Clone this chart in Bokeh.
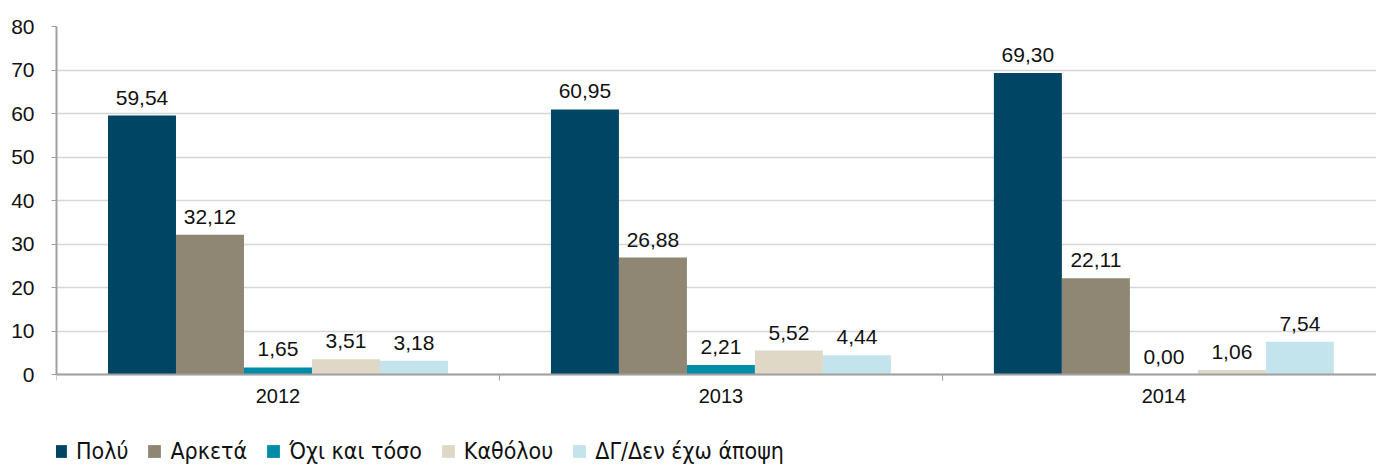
from bokeh.plotting import figure
from bokeh.models import ColumnDataSource, Range1d, FixedTicker, Legend, LegendItem
from bokeh.embed import file_html
from bokeh.resources import INLINE
from bokeh.core.properties import value

years = ["2012", "2013", "2014"]
series = ["Πολύ", "Αρκετά", "Όχι και τόσο", "Καθόλου", "ΔΓ/Δεν έχω άποψη"]
values = {
    "Πολύ": [59.54, 60.95, 69.30],
    "Αρκετά": [32.12, 26.88, 22.11],
    "Όχι και τόσο": [1.65, 2.21, 0.00],
    "Καθόλου": [3.51, 5.52, 1.06],
    "ΔΓ/Δεν έχω άποψη": [3.18, 4.44, 7.54],
}
colors = ["#004664", "#8f8673", "#008ba8", "#e0d8c6", "#c3e4ec"]
y_ticks = [0, 10, 20, 30, 40, 50, 60, 70, 80]

FONT = "Liberation Sans"
bw = 0.1535

# frame spans full height below the top border; value 0 sits at 374px, 80 at 26px
p = figure(width=1376, height=465, output_backend="svg", toolbar_location=None,
           x_range=Range1d(0, 2.98), y_range=Range1d(-20.9, 80),
           min_border_left=56, min_border_right=0, min_border_top=26, min_border_bottom=0)
p.outline_line_color = None

items = []
for j, (s, c) in enumerate(zip(series, colors)):
    xs = [i + 0.5 + (j - 2) * bw for i in range(len(years))]
    src = ColumnDataSource(dict(x=xs, top=values[s], lab=[f"{v:.2f}".replace(".", ",") for v in values[s]]))
    r = p.vbar(x="x", top="top", width=bw, source=src, fill_color=c, line_color=None)
    p.text(x="x", y="top", text="lab", source=src, text_align="center", text_baseline="alphabetic",
           y_offset=-18, text_font=value(FONT), text_font_size="21px", text_color="#111111")
    items.append(LegendItem(label=s, renderers=[r]))

# axes
p.yaxis.ticker = FixedTicker(ticks=y_ticks)
p.yaxis.bounds = (0, 80)
p.yaxis.major_label_text_font = FONT
p.yaxis.major_label_text_font_size = "21px"
p.yaxis.major_label_text_color = "#111111"
p.yaxis.axis_line_color = "#a0a0a0"
p.yaxis.axis_line_width = 2
p.yaxis.major_tick_line_color = "#a0a0a0"
p.yaxis.major_tick_out = 5
p.yaxis.major_tick_in = 0
p.yaxis.minor_tick_line_color = None
p.yaxis.major_label_standoff = 17

p.xaxis.fixed_location = 0
p.xaxis.ticker = FixedTicker(ticks=[i + 0.5 for i in range(len(years))], minor_ticks=list(range(len(years) + 1)))
p.xaxis.major_label_overrides = {i + 0.5: y for i, y in enumerate(years)}
p.xaxis.major_label_text_font = FONT
p.xaxis.major_label_text_font_size = "20px"
p.xaxis.major_label_text_color = "#111111"
p.xaxis.major_tick_line_color = None
p.xaxis.minor_tick_line_color = "#a0a0a0"
p.xaxis.minor_tick_out = 6
p.xaxis.minor_tick_in = 0
p.xaxis.axis_line_color = "#a0a0a0"
p.xaxis.axis_line_width = 2
p.xaxis.major_label_standoff = 8

p.xgrid.grid_line_color = None
p.ygrid.grid_line_color = "#d6d6d6"
p.ygrid.grid_line_width = 1.5
p.ygrid.bounds = (0, 80)

legend = Legend(items=items, orientation="horizontal", location=(-4, 1),
                label_text_font="DejaVu Sans Condensed", label_text_font_size="23px",
                label_text_color="#111111", glyph_width=16, glyph_height=16,
                label_standoff=8, spacing=18, padding=0, margin=0,
                background_fill_alpha=0, border_line_color=None)
p.add_layout(legend, "center")

open("out.html", "w").write(file_html(p, INLINE))
